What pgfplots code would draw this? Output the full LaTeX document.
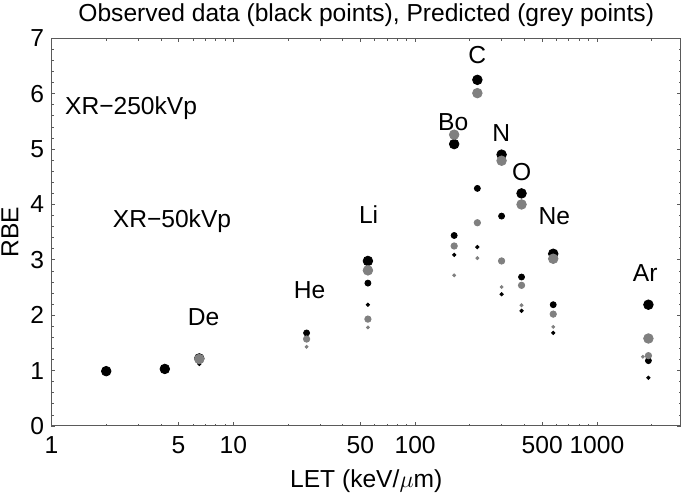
\documentclass[border=0pt]{standalone}
\usepackage{pgfplots}
\pgfplotsset{compat=1.18}
\usepackage{fontspec}
\setmainfont{Liberation Sans}
\setsansfont{Liberation Sans}
\definecolor{dgrey}{RGB}{128,128,128}
\definecolor{frame}{RGB}{90,90,90}
\begin{document}
\begin{tikzpicture}[font=\fontsize{12.3}{14}\selectfont]
\begin{axis}[
  at={(0,0)}, anchor=south west,
  scale only axis, width=314.75pt, height=193.85pt,
  xmode=log, xmin=1, xmax=2900, ymin=0, ymax=7,
  xtick={1,5,10,50,100,500,1000},
  xticklabels={1,5,10,50,100,500,1000},
  minor xtick={2,3,4,6,7,8,9,20,30,40,60,70,80,90,200,300,400,600,700,800,900,2000},
  ytick={0,1,2,3,4,5,6,7},
  minor y tick num=4,
  tick align=inside,
  major tick length=2pt, minor tick length=1.2pt,
  axis line style={frame, line width=0.5pt},
  every tick/.style={frame, line width=0.4pt},
  /pgf/number format/assume math mode=true,
  xticklabel style={anchor=north, inner sep=0pt, yshift=-5pt},
  yticklabel style={anchor=east, inner sep=0pt, xshift=-3.5pt},
  clip=false,
  bbig/.style={only marks, color=black, mark=*, mark size=2.4pt, mark options={draw=none, fill=black}},
  gbig/.style={only marks, color=dgrey, mark=*, mark size=2.4pt, mark options={draw=none, fill=dgrey}},
  bmed/.style={only marks, color=black, mark=*, mark size=1.5pt, mark options={draw=none, fill=black}},
  gmed/.style={only marks, color=dgrey, mark=*, mark size=1.6pt, mark options={draw=none, fill=dgrey}},
  bsml/.style={only marks, color=black, mark=*, mark size=0.85pt, mark options={draw=none, fill=black}},
  gsml/.style={only marks, color=dgrey, mark=*, mark size=0.75pt, mark options={draw=none, fill=dgrey}},
]
% observed (black)
\addplot[bbig] coordinates {(2,0.99) (4.2,1.03) (6.5,1.22) (55,2.98) (164,5.09) (220,6.25) (299,4.90) (385,4.20) (575,3.11) (1920,2.19)};
\addplot[bmed] coordinates {(25.3,1.68) (55,2.58) (164,3.44) (220,4.29) (299,3.79) (385,2.69) (575,2.19) (1920,1.18)};
\addplot[bsml] coordinates {(6.5,1.12) (55,2.19) (164,3.09) (220,3.23) (299,2.38) (385,2.08) (575,1.68) (1920,0.87)};
% predicted (grey)
\addplot[gbig] coordinates {(6.5,1.21) (55,2.81) (164,5.26) (220,6.01) (299,4.79) (385,4.00) (575,3.02) (1920,1.58)};
\addplot[gmed] coordinates {(25.3,1.57) (55,1.93) (164,3.25) (220,3.67) (299,2.98) (385,2.54) (575,2.02) (1920,1.27)};
\addplot[gsml] coordinates {(25.3,1.43) (55,1.78) (164,2.72) (220,3.03) (299,2.51) (385,2.18) (575,1.79) (1790,1.25)};
% labels
\node[anchor=base] at (axis cs:2.74,5.63) {XR−250kVp};
\node[anchor=base] at (axis cs:4.60,3.59) {XR−50kVp};
\node[anchor=base] at (axis cs:6.86,1.82) {De};
\node[anchor=base] at (axis cs:26.3,2.31) {He};
\node[anchor=base] at (axis cs:55.5,3.65) {Li};
\node[anchor=base] at (axis cs:220,6.55) {C};
\node[anchor=base] at (axis cs:162,5.33) {Bo};
\node[anchor=base] at (axis cs:298,5.13) {N};
\node[anchor=base] at (axis cs:386,4.44) {O};
\node[anchor=base] at (axis cs:583,3.63) {Ne};
\node[anchor=base] at (axis cs:1845,2.60) {Ar};
% title and axis labels
\node[anchor=base, yshift=8.65pt] at (rel axis cs:0.5,1) {Observed data (black points), Predicted (grey points)};
\node[anchor=base, yshift=-31pt] at (rel axis cs:0.5,0) {LET (keV/$\mu$m)};
\node[xshift=-20.75pt, rotate=90, anchor=center] at (rel axis cs:0,0.5) {RBE};
\end{axis}
\pgfresetboundingbox
\path[use as bounding box] (-25.75pt,-35.5pt) rectangle (317.25pt,213pt);
\end{tikzpicture}
\end{document}
